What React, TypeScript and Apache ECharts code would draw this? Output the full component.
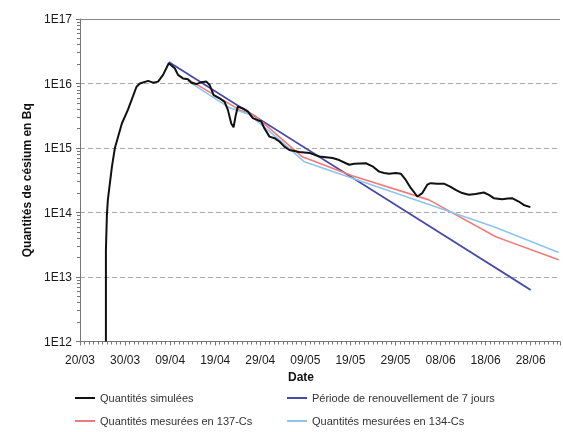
import React, { useEffect, useRef } from "react";
import * as echarts from "echarts";

// Days counted from 20/03 (day 0)
const xTickLabels = ["20/03", "30/03", "09/04", "19/04", "29/04", "09/05", "19/05", "29/05", "08/06", "18/06", "28/06"];
const yTickLabels = ["1E12", "1E13", "1E14", "1E15", "1E16", "1E17"];

const simulatedDays = [
  5.75, 5.75, 5.97, 6.19, 7.08, 7.74, 9.29, 10.62, 12.54, 13.27, 15.11, 16.22, 17.32, 18.43, 19.69,
  21.02, 21.75, 22.85, 23.96, 24.71, 25.82, 26.92, 28.03, 28.76, 29.65, 30.97, 32.08, 32.81, 33.56,
  34.07, 34.51, 35.02, 36.13, 37.23, 38.34, 39.45, 40.2, 40.93, 42.04, 43.14, 44.25, 45.35, 46.46,
  48.67, 50.88, 53.1, 56.04, 57.52, 59.0, 59.73, 60.84, 63.43, 64.89, 66.37, 67.48, 68.58, 70.07,
  71.17, 72.28, 73.38, 74.85, 75.95, 77.06, 77.81, 79.27, 80.75, 82.23, 83.34, 84.8, 86.28, 87.77,
  89.6, 90.71, 91.81, 93.65, 95.86, 97.35, 98.45, 99.93,
];
const simulatedValues = [
  1.0e12, 2.6e13, 9.2e13, 1.6e14, 5.1e14, 1.0e15, 2.4e15, 3.9e15, 8.9e15, 1.0e16, 1.1e16, 1.03e16, 1.07e16, 1.36e16, 2.06e16,
  1.72e16, 1.36e16, 1.2e16, 1.16e16, 1.03e16, 9.8e15, 1.05e16, 1.07e16, 9.5e15, 6.6e15, 5.9e15, 5.2e15, 3.9e15, 2.4e15,
  2.1e15, 3.1e15, 4.4e15, 4.1e15, 3.7e15, 2.9e15, 2.7e15, 2.6e15, 2.0e15, 1.5e15, 1.42e15, 1.26e15, 1.05e15, 9.3e14,
  8.7e14, 8.4e14, 7.4e14, 7.0e14, 6.5e14, 5.8e14, 5.5e14, 5.7e14, 5.8e14, 5.2e14, 4.3e14, 4.1e14, 4.0e14, 4.1e14,
  4.0e14, 3.2e14, 2.4e14, 1.77e14, 2.0e14, 2.7e14, 2.85e14, 2.8e14, 2.8e14, 2.5e14, 2.24e14, 2.0e14, 1.88e14, 1.94e14,
  2.04e14, 1.88e14, 1.67e14, 1.61e14, 1.67e14, 1.48e14, 1.31e14, 1.21e14,
];

const renewalDays = [19.7, 100];
const renewalValues = [2.15e16, 6.3e12];

const cs137Days = [23.89, 35.4, 38.72, 49.34, 60.4, 77.43, 92.26, 106.2];
const cs137Values = [1.17e16, 3.9e15, 3.2e15, 7.3e14, 3.7e14, 1.57e14, 4.2e13, 1.85e13];

const cs134Days = [23.89, 33.19, 37.61, 44.25, 49.78, 91.81, 106.2];
const cs134Values = [1.1e16, 4.2e15, 3.3e15, 1.34e15, 6.1e14, 6.0e13, 2.4e13];

const X_MAX = 106.5;
const Y_MIN = 1e12;
const Y_MAX = 1e17;
const FONT = '"Liberation Sans", Arial, sans-serif';
const AXIS_COLOR = "#777";

function pairs(xs: number[], ys: number[]) {
  return xs.map((x, i) => [x, ys[i]]);
}

export default function App() {
  const ref = useRef<HTMLDivElement>(null);
  useEffect(() => {
    if (!ref.current) return;
    const chart = echarts.init(ref.current, undefined, { renderer: "svg" });
    const legendBase = {
      orient: "vertical",
      top: 391,
      padding: 0,
      itemGap: 9,
      itemWidth: 20,
      itemHeight: 2,
      icon: "rect",
      selectedMode: false,
      textStyle: { fontSize: 11, color: "#333", fontFamily: FONT, lineHeight: 14 },
    };
    const option: any = {
      animation: false,
      grid: { left: 80, top: 19, width: 481, height: 322.5 },
      legend: [
        { ...legendBase, left: 75, data: ["Quantités simulées", "Quantités mesurées en 137-Cs"] },
        { ...legendBase, left: 287, data: ["Période de renouvellement de 7 jours", "Quantités mesurées en 134-Cs"] },
      ],
      xAxis: {
        type: "value",
        min: 0,
        max: X_MAX,
        interval: 10,
        axisLine: { show: true, lineStyle: { color: AXIS_COLOR, width: 1 } },
        axisTick: { show: true, length: 4, lineStyle: { color: AXIS_COLOR, width: 1 } },
        minorTick: { show: true, splitNumber: 10, length: 3, lineStyle: { color: AXIS_COLOR, width: 1 } },
        splitLine: { show: false },
        axisLabel: {
          margin: 12,
          fontSize: 12,
          color: "#1a1a1a",
          fontFamily: FONT,
          formatter: (v: number) => {
            const i = Math.round(v / 10);
            return Math.abs(v - i * 10) < 1e-6 && xTickLabels[i] ? xTickLabels[i] : "";
          },
        },
      },
      yAxis: {
        type: "log",
        min: Y_MIN,
        max: Y_MAX,
        name: "Quantités de césium en Bq",
        nameLocation: "middle",
        nameGap: 31,
        nameTextStyle: { fontSize: 12, fontWeight: "bold", color: "#111", fontFamily: FONT },
        axisLine: { show: true, lineStyle: { color: AXIS_COLOR, width: 1 } },
        axisTick: { show: true, length: 4, lineStyle: { color: AXIS_COLOR, width: 1 } },
        minorTick: { show: true, splitNumber: 9, length: 3, lineStyle: { color: AXIS_COLOR, width: 1 } },
        axisLabel: {
          margin: 8,
          fontSize: 12,
          color: "#1a1a1a",
          fontFamily: FONT,
          formatter: (v: number) => yTickLabels[Math.round(Math.log10(v)) - 12] ?? "",
        },
        splitLine: { show: true, lineStyle: { color: "#aaa", type: [5, 3], width: 1 } },
      },
      graphic: [
        {
          type: "text",
          x: 301,
          y: 377,
          style: { text: "Date", font: `bold 12px ${FONT}`, fill: "#111", align: "center", verticalAlign: "middle" },
        },
      ],
      series: [
        {
          name: "Période de renouvellement de 7 jours",
          type: "line",
          data: pairs(renewalDays, renewalValues),
          showSymbol: false,
          color: "#4549a8",
          lineStyle: { width: 1.8, color: "#4549a8" },
        },
        {
          name: "Quantités mesurées en 137-Cs",
          type: "line",
          data: pairs(cs137Days, cs137Values),
          showSymbol: false,
          color: "#f07a7a",
          lineStyle: { width: 1.6, color: "#f07a7a" },
        },
        {
          name: "Quantités mesurées en 134-Cs",
          type: "line",
          data: pairs(cs134Days, cs134Values),
          showSymbol: false,
          color: "#8ec5ef",
          lineStyle: { width: 1.6, color: "#8ec5ef" },
        },
        {
          name: "Quantités simulées",
          type: "line",
          data: pairs(simulatedDays, simulatedValues),
          showSymbol: false,
          color: "#111",
          lineStyle: { width: 2, color: "#111" },
          markLine: {
            silent: true,
            symbol: ["none", "none"],
            label: { show: false },
            lineStyle: { color: "#888", type: "solid", width: 1 },
            data: [{ yAxis: Y_MAX }],
          },
        },
      ],
    };
    chart.setOption(option);
    return () => chart.dispose();
  }, []);
  return <div ref={ref} style={{ position: "fixed", left: 0, top: 0, width: 563, height: 432 }} />;
}
